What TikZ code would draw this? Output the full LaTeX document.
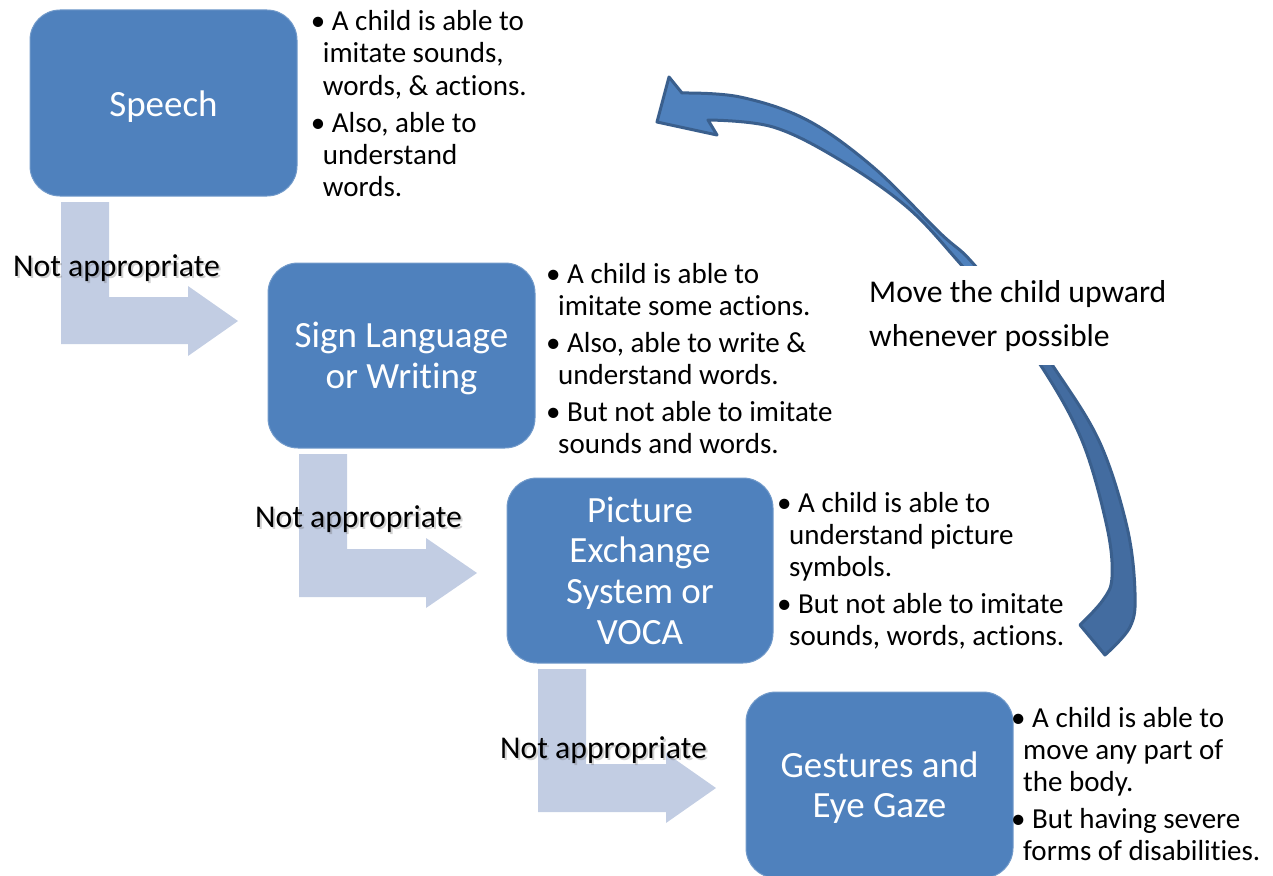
\documentclass[tikz,border=0pt]{standalone}
\usepackage{fontspec}
\setmainfont{Carlito}[Ligatures={NoCommon,NoContextual}]
\definecolor{boxblue}{HTML}{4F81BD}
\definecolor{arrowlight}{RGB}{194,205,227}
\definecolor{arrowedge}{HTML}{3A5F8D}
\definecolor{arrowdark}{RGB}{67,108,160}
\tikzset{
  stage/.style={fill=boxblue, draw=boxblue!80!white, line width=1pt, rounded corners=30pt,
    text=white, align=flush center, font=\fontsize{37}{40.6}\selectfont, inner sep=0pt},
  bullets/.style={anchor=base west, align=flush left, inner sep=0pt, text width=320pt,
    font=\fontsize{29}{32}\selectfont},
  bentarrow/.style={fill=arrowlight, draw=none},
  notappr/.style={anchor=base west, inner sep=0pt, font=\fontsize{31.7}{38}\selectfont},
  shadowtext/.style={notappr, text=black!60, opacity=0.3},
}
\newcommand{\bl}{\hspace*{-12pt}\textbullet\ }
\newcommand{\tb}{\rule{0pt}{31pt}}
\begin{document}
\begin{tikzpicture}[x=1pt, y=-1pt]
\useasboundingbox (0,0) rectangle (1273,875);

% bent block arrows
\fill[bentarrow] (61,202) -- (109,202) -- (109,297) -- (188,297) -- (188,286) -- (238,321) -- (188,356) -- (188,344) -- (61,344) -- cycle;
\fill[bentarrow] (299,454) -- (347,454) -- (347,549) -- (426,549) -- (426,538) -- (477,573) -- (426,608) -- (426,597) -- (299,597) -- cycle;
\fill[bentarrow] (538,669) -- (586,669) -- (586,764) -- (666,764) -- (666,753) -- (716,788) -- (666,823) -- (666,812) -- (538,812) -- cycle;

% stage boxes
\node[stage, minimum width=267pt, minimum height=186pt] (speech) at (163.5,103) {\rule{0pt}{32pt}Speech};
\node[stage, minimum width=267pt, minimum height=185pt] (sign) at (401.5,355.5) {\tb Sign Language\\or Writing};
\node[stage, minimum width=266pt, minimum height=185pt] (pecs) at (640,570.5) {Picture\\Exchange\\System or\\VOCA};
\node[stage, minimum width=267pt, minimum height=186pt] (gest) at (879.5,785) {\tb Gestures and\\Eye Gaze};

% labels
\node[shadowtext] (na1s) at (15,278) {Not appropriate};
\node[notappr] (na1) at (13,276) {Not appropriate};
\node[shadowtext] (na2s) at (257,529) {Not appropriate};
\node[notappr] (na2) at (255,527) {Not appropriate};
\node[shadowtext] (na3s) at (502,760) {Not appropriate};
\node[notappr] (na3) at (500,758) {Not appropriate};

% bullet texts
\node[bullets] (t1) at (322.7,31) {\bl A child is able to\\imitate sounds,\\words, \& actions.\\[5pt]\bl Also, able to\\understand\\words.};
\node[bullets] (t2) at (558,283) {\bl A child is able to\\imitate some actions.\\[5pt]\bl Also, able to write \&\\understand words.\\[5pt]\bl But not able to imitate\\sounds and words.};
\node[bullets] (t3) at (789,512) {\bl A child is able to\\understand picture\\symbols.\\[5pt]\bl But not able to imitate\\sounds, words, actions.};
\node[bullets] (t4) at (1023,727) {\bl A child is able to\\move any part of\\the body.\\[5pt]\bl But having severe\\forms of disabilities.};

% curved return arrow
\def\arrowpath{(1080,625) -- (1105,655)
  -- plot[smooth, tension=0.6] coordinates {(1105,655) (1130,627) (1135,593) (1127,527) (1100,443) (1057,372) (1015,315) (970,260) (940,233) (873,167) (807,120) (740,97) (682,93)}
  -- (669,77) -- (657,122) -- (717,135) -- (708,120)
  -- plot[smooth, tension=0.6] coordinates {(708,120) (773,127) (840,160) (907,207) (957,260) (1000,312) (1045,372) (1083,443) (1107,527) (1112,577) (1103,600) (1080,625)}
  -- cycle}
\fill[boxblue] \arrowpath;
\begin{scope}
  \clip (900,330) rectangle (1200,700);
  \fill[arrowdark] \arrowpath;
\end{scope}
\draw[arrowedge, line width=3pt, line join=round] \arrowpath;

\node[anchor=base west, align=flush left, text width=310pt, fill=white, inner xsep=6pt, inner ysep=14pt,
  font=\fontsize{31.7}{44}\selectfont] (move) at (863,302) {Move the child upward\\whenever possible};
\end{tikzpicture}
\end{document}
